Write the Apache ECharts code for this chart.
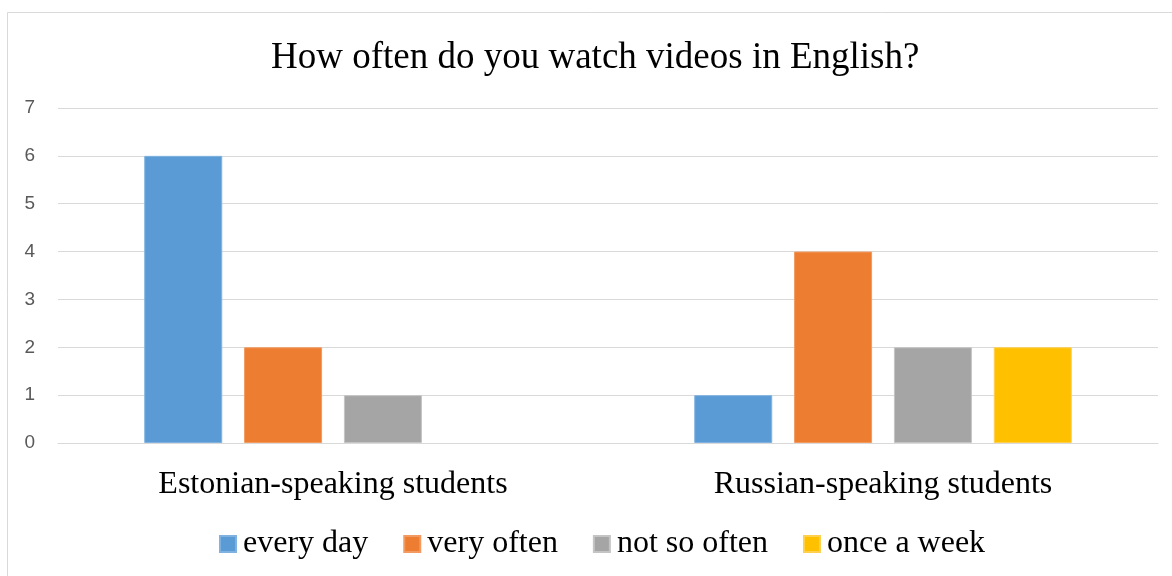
<!DOCTYPE html>
<html>
<head>
<meta charset="utf-8">
<style>
  html, body { margin: 0; padding: 0; background: #fff; }
  #chart { width: 1172px; height: 576px; }
</style>
<script src="https://cdn.jsdelivr.net/npm/echarts@6/dist/echarts.min.js"></script>
</head>
<body>
<div id="chart"></div>
<script>
// Survey answers per student group (null = no answers in that group)
const groups = ['Estonian-speaking students', 'Russian-speaking students'];
const everyDay = [6, 1];
const veryOften = [2, 4];
const notSoOften = [1, 2];
const onceAWeek = [null, 2];
const seriesNames = ['every day', 'very often', 'not so often', 'once a week'];
const colors = ['#5B9BD5', '#ED7D31', '#A5A5A5', '#FFC000'];
const borders = ['#7FB2E0', '#F29A60', '#C4C4C4', '#FFD04D'];

const serif = '"Liberation Serif", "Times New Roman", serif';
const sans = '"Liberation Sans", Arial, sans-serif';

const values = [everyDay, veryOften, notSoOften, onceAWeek];

const chart = echarts.init(document.getElementById('chart'), null, { renderer: 'canvas' });
chart.setOption({
  animation: false,
  backgroundColor: '#fff',
  title: {
    text: 'How often do you watch videos in English?',
    left: 271,
    top: 40,
    padding: 0,
    textStyle: { fontFamily: serif, fontSize: 37, fontWeight: 'normal', color: '#000' }
  },
  graphic: [{
    type: 'rect',
    shape: { x: 7.5, y: 12.5, width: 1200, height: 600 },
    style: { fill: 'none', stroke: '#D9D9D9', lineWidth: 1 },
    silent: true
  }],
  legend: {
    data: seriesNames,
    left: 214,
    top: 523,
    icon: 'rect',
    itemWidth: 16,
    itemHeight: 16,
    itemGap: 35,
    textStyle: { fontFamily: serif, fontSize: 32, color: '#000', padding: [0, 0, 0, 2] }
  },
  grid: { left: 58, right: 14, top: 108, bottom: 133, containLabel: false },
  xAxis: {
    type: 'category',
    data: groups,
    axisLine: { lineStyle: { color: '#D9D9D9', width: 1 } },
    axisTick: { show: false },
    axisLabel: { fontFamily: serif, fontSize: 32, color: '#000', margin: 26 }
  },
  yAxis: {
    type: 'value',
    min: 0,
    max: 7,
    interval: 1,
    axisLine: { show: false },
    axisTick: { show: false },
    splitLine: { lineStyle: { color: '#D9D9D9', width: 1 } },
    axisLabel: { fontFamily: sans, fontSize: 19, color: '#595959', margin: 23 }
  },
  series: seriesNames.map((name, i) => ({
    name: name,
    type: 'bar',
    data: values[i],
    barWidth: 78,
    barGap: '28%',
    itemStyle: { color: colors[i], borderColor: borders[i], borderWidth: 1 }
  }))
});
</script>
</body>
</html>
